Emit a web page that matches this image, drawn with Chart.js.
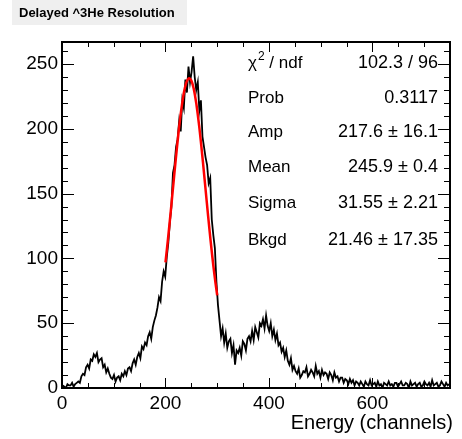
<!DOCTYPE html>
<html>
<head>
<meta charset="utf-8">
<script src="https://cdn.jsdelivr.net/npm/chart.js@4.4.0/dist/chart.umd.min.js"></script>
<style>
  html, body { margin: 0; padding: 0; background: #fff; }
  canvas { display: block; }
</style>
</head>
<body>
<canvas id="chart" width="462" height="439"></canvas>
<script>
// histogram, 3 channels per bin, 0..750
const binWidth = 3;
const counts = [
    2, 1, 0, 3, 2, 2, 4, 1, 3, 4,
    5, 4, 9, 11, 10, 16, 18, 15, 22, 21,
    26, 24, 27, 20, 22, 23, 16, 18, 12, 15,
    11, 8, 7, 10, 5, 8, 9, 6, 11, 9,
    13, 10, 15, 16, 13, 19, 22, 18, 24, 27,
    23, 32, 30, 35, 33, 40, 43, 38, 47, 52,
    56, 62, 70, 67, 82, 90, 86, 101, 112, 128,
    140, 166, 172, 186, 192, 206, 198, 222, 216, 238,
    228, 248, 236, 244, 256, 240, 230, 236, 214, 222,
    194, 186, 178, 172, 158, 162, 130, 118, 108, 82,
    64, 52, 40, 46, 35, 42, 31, 36, 38, 27,
    33, 18, 29, 27, 31, 25, 36, 34, 29, 38,
    40, 36, 44, 37, 47, 43, 39, 50, 48, 53,
    46, 56, 48, 44, 50, 40, 45, 37, 42, 33,
    35, 28, 31, 24, 29, 21, 18, 23, 14, 17,
    13, 11, 15, 8, 10, 13, 12, 16, 9, 11,
    14, 12, 9, 17, 11, 13, 8, 14, 10, 12,
    11, 7, 12, 10, 6, 12, 8, 9, 5, 8,
    8, 4, 7, 6, 3, 7, 4, 6, 2, 5,
    4, 2, 5, 3, 1, 5, 3, 2, 6, 2,
    3, 4, 1, 5, 2, 3, 0, 4, 3, 2,
    5, 2, 3, 1, 4, 4, 1, 3, 5, 2,
    2, 4, 3, 0, 5, 2, 3, 4, 1, 3,
    4, 1, 2, 5, 3, 2, 4, 1, 6, 2,
    3, 4, 1, 2, 5, 3, 1, 4, 2, 3
];

// gaus + bkgd fit, sampled every 5 channels over the fit range
const fitX = [200, 205, 210, 215, 220, 225, 230, 235, 240, 245, 250,
              255, 260, 265, 270, 275, 280, 285, 290, 295, 300];
const fitY = [97.0, 115.4, 135.4, 156.2, 176.8, 196.2, 213.1, 226.5, 235.3, 239.0, 237.2,
              230.2, 218.4, 202.6, 184.0, 163.7, 142.8, 122.4, 103.4, 86.3, 71.5];

const xTicks = [0, 200, 400, 600];
const yTicks = [0, 50, 100, 150, 200, 250];

const statLabels = ["/ ndf", "Prob", "Amp", "Mean", "Sigma", "Bkgd"];
const statValues = ["102.3 / 96", "0.3117", "217.6 \u00b1 16.1", "245.9 \u00b1 0.4", "31.55 \u00b1 2.21", "21.46 \u00b1 17.35"];

const FONT = "'Liberation Sans', Arial, Helvetica, sans-serif";

const histPoints = counts.map((c, i) => ({x: i * binWidth + binWidth / 2, y: c}));

const fitPoints = fitX.map((x, i) => ({x: x, y: fitY[i]}));

const rootFrame = {
    id: 'rootFrame',
    beforeDraw(chart) {
        const ctx = chart.ctx;
        ctx.save();
        ctx.fillStyle = '#efefef';
        ctx.fillRect(12, 0, 175, 25);
        ctx.fillStyle = '#000';
        ctx.font = 'bold 13px ' + FONT;
        ctx.textBaseline = 'alphabetic';
        ctx.textAlign = 'left';
        ctx.fillText('Delayed ^3He Resolution', 19, 17);
        ctx.restore();
    },
    afterDraw(chart) {
        const ctx = chart.ctx;
        const a = chart.chartArea;
        const xs = chart.scales.x;
        const ys = chart.scales.y;
        ctx.save();

        ctx.strokeStyle = '#000';
        ctx.lineWidth = 1;
        ctx.beginPath();
        for (let v = 0; v <= 750; v += 50) {
            const px = Math.round(xs.getPixelForValue(v)) + 0.5;
            const len = v % 200 === 0 ? 10 : 5;
            ctx.moveTo(px, a.bottom); ctx.lineTo(px, a.bottom - len);
            ctx.moveTo(px, a.top); ctx.lineTo(px, a.top + len);
        }
        for (let v = 0; v <= 260; v += 10) {
            const py = Math.round(ys.getPixelForValue(v)) + 0.5;
            const len = v % 50 === 0 ? 12 : 6;
            ctx.moveTo(a.left, py); ctx.lineTo(a.left + len, py);
            ctx.moveTo(a.right, py); ctx.lineTo(a.right - len, py);
        }
        ctx.stroke();

        ctx.lineWidth = 2;
        ctx.strokeRect(a.left, a.top, a.right - a.left, a.bottom - a.top);

        // fit statistics
        ctx.fillStyle = '#000';
        ctx.textBaseline = 'middle';
        const rowY = [63, 98, 132, 167, 203, 240];
        statLabels.forEach((lab, i) => {
            ctx.font = '17px ' + FONT;
            ctx.textAlign = 'left';
            if (i === 0) {
                ctx.fillText('\u03c7', 248, rowY[i]);
                const w = ctx.measureText('\u03c7').width;
                ctx.font = '12px ' + FONT;
                ctx.fillText('2', 248 + w + 1, rowY[i] - 6);
                const w2 = ctx.measureText('2').width;
                ctx.font = '17px ' + FONT;
                ctx.fillText(' ' + lab, 248 + w + w2 + 1, rowY[i]);
            } else {
                ctx.fillText(lab, 248, rowY[i]);
            }
            ctx.font = '18px ' + FONT;
            ctx.textAlign = 'right';
            ctx.fillText(statValues[i], 438, rowY[i]);
        });

        ctx.font = '20px ' + FONT;
        ctx.textAlign = 'right';
        ctx.textBaseline = 'alphabetic';
        ctx.fillText('Energy (channels)', 453, 429);
        ctx.restore();
    }
};

new Chart(document.getElementById('chart'), {
    type: 'line',
    data: {
        datasets: [{
            data: histPoints,
            borderColor: '#000',
            borderWidth: 1.8,
            pointRadius: 0,
            fill: false,
            order: 1
        }, {
            data: fitPoints,
            borderColor: '#ff0000',
            borderWidth: 2.5,
            tension: 0.4,
            pointRadius: 0,
            fill: false,
            order: 0
        }]
    },
    options: {
        responsive: false,
        animation: false,
        devicePixelRatio: 1,
        layout: { padding: { top: 42, right: 12, left: 0, bottom: 0 } },
        plugins: {
            legend: { display: false },
            tooltip: { enabled: false }
        },
        scales: {
            x: {
                type: 'linear',
                min: 0,
                max: 750,
                afterBuildTicks: s => { s.ticks = xTicks.map(v => ({value: v})); },
                afterFit: s => { s.height = 51; },
                grid: { display: false, drawTicks: false },
                border: { display: false },
                ticks: {
                    padding: 4,
                    color: '#000',
                    autoSkip: false,
                    maxRotation: 0,
                    font: { family: FONT, size: 19 }
                }
            },
            y: {
                type: 'linear',
                min: 0,
                max: 267,
                afterBuildTicks: s => { s.ticks = yTicks.map(v => ({value: v})); },
                afterFit: s => { s.width = 62; },
                grid: { display: false, drawTicks: false },
                border: { display: false },
                ticks: {
                    padding: 4,
                    color: '#000',
                    font: { family: FONT, size: 19 }
                }
            }
        }
    },
    plugins: [rootFrame]
});
</script>
</body>
</html>
